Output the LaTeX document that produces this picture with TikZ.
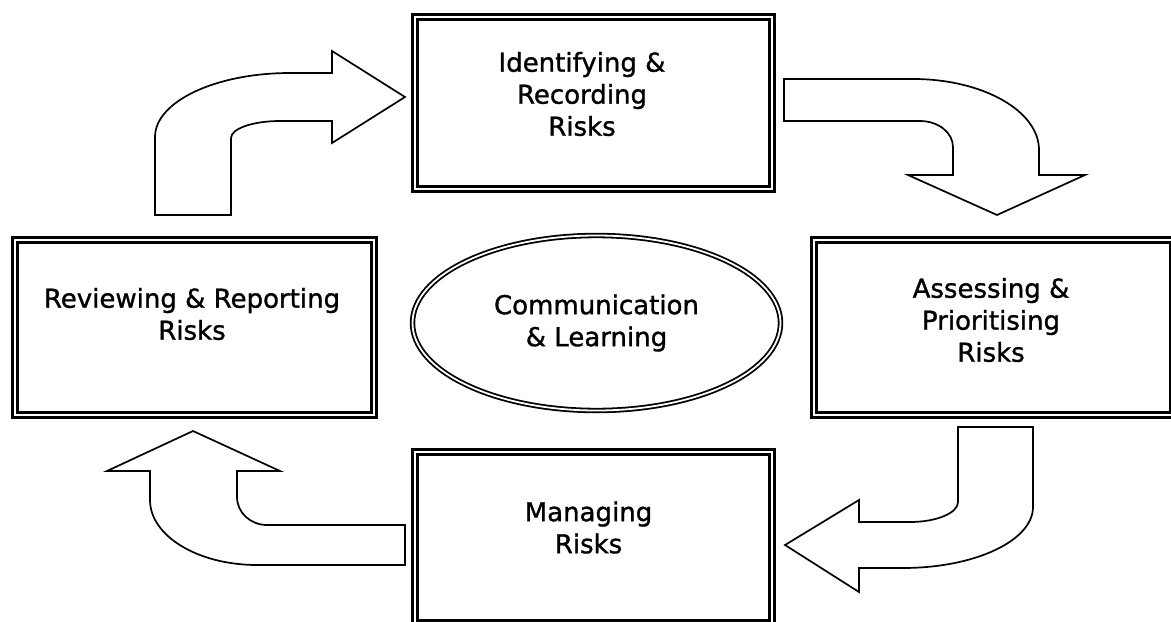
\documentclass[tikz,border=0pt]{standalone}
\usepackage{fontspec}
\setmainfont{DejaVu Sans}
\newfontfamily\stagefont[FakeBold=1.2]{DejaVu Sans}
\usetikzlibrary{shapes.geometric}

\begin{document}
\begin{tikzpicture}[x=0.5pt,y=-0.5pt,
    stagebox/.style={draw,double,double distance=1pt,line width=1.5pt,outer sep=0pt,inner sep=0pt},
    stagetext/.style={align=center,font=\stagefont\fontsize{13}{16}\selectfont,inner sep=0pt},
    bendarrow/.style={draw,fill=white,line width=0.85pt,line join=miter}]
    \clip (0,0) rectangle (1171,621);

    % the four stages
    \node[stagebox,minimum width=178.5pt,minimum height=86pt] (ident) at (593.5,102.5) {};
    \node[stagebox,minimum width=179.5pt,minimum height=87.5pt] (assess) at (993,327) {};
    \node[stagebox,minimum width=178.5pt,minimum height=85.5pt] (manage) at (593.5,537) {};
    \node[stagebox,minimum width=179.5pt,minimum height=87.5pt] (review) at (194,327) {};

    \node[stagetext] (ident-t) at ([shift={(-11.5,-8.5)}]ident.center) {Identifying \&\\Recording\\Risks};
    \node[stagetext] (assess-t) at ([shift={(-2,-7)}]assess.center) {Assessing \&\\Prioritising\\Risks};
    \node[stagetext] (manage-t) at ([shift={(-5,-9.5)}]manage.center) {Managing\\Risks};
    \node[stagetext] (review-t) at ([shift={(-2,-13)}]review.center) {Reviewing \& Reporting\\Risks};

    \node[ellipse,draw,double,double distance=0.9pt,line width=0.9pt,
          minimum width=184pt,minimum height=87.5pt,stagetext] (comm) at (596.5,323) {Communication\\\& Learning};

    % bent block arrows
    \filldraw[bendarrow] (155,215) -- (155,137) .. controls (155,101.7) and (215.4,73) .. (290,73)
        -- (332,73) -- (332,51) -- (405,97) -- (332,143) -- (332,121) -- (280,121)
        .. controls (253,121) and (231,128.6) .. (231,138) -- (231,215) -- cycle;
    \filldraw[bendarrow] (784,79) -- (913,79) .. controls (982.6,79) and (1039,110.8) .. (1039,150)
        -- (1039,175) -- (1085,175) -- (997,215) -- (908,175) -- (953,175) -- (953,147)
        .. controls (953,132.6) and (938.2,121) .. (920,121) -- (784,121) -- cycle;
    \filldraw[bendarrow] (958,427) -- (1033,427) -- (1033,507) .. controls (1033,540.7) and (974.8,568) .. (903,568)
        -- (859,568) -- (859,592) -- (785,545) -- (859,500) -- (859,522) -- (910,522)
        .. controls (936.5,522) and (958,513) .. (958,502) -- cycle;
    \filldraw[bendarrow] (405,525) -- (405,565) -- (257,565) .. controls (197.9,565) and (150,535.9) .. (150,500)
        -- (150,471) -- (107,471) -- (193,431) -- (280,471) -- (237,471) -- (237,497)
        .. controls (237,512.5) and (250.4,525) .. (267,525) -- cycle;
\end{tikzpicture}
\end{document}
